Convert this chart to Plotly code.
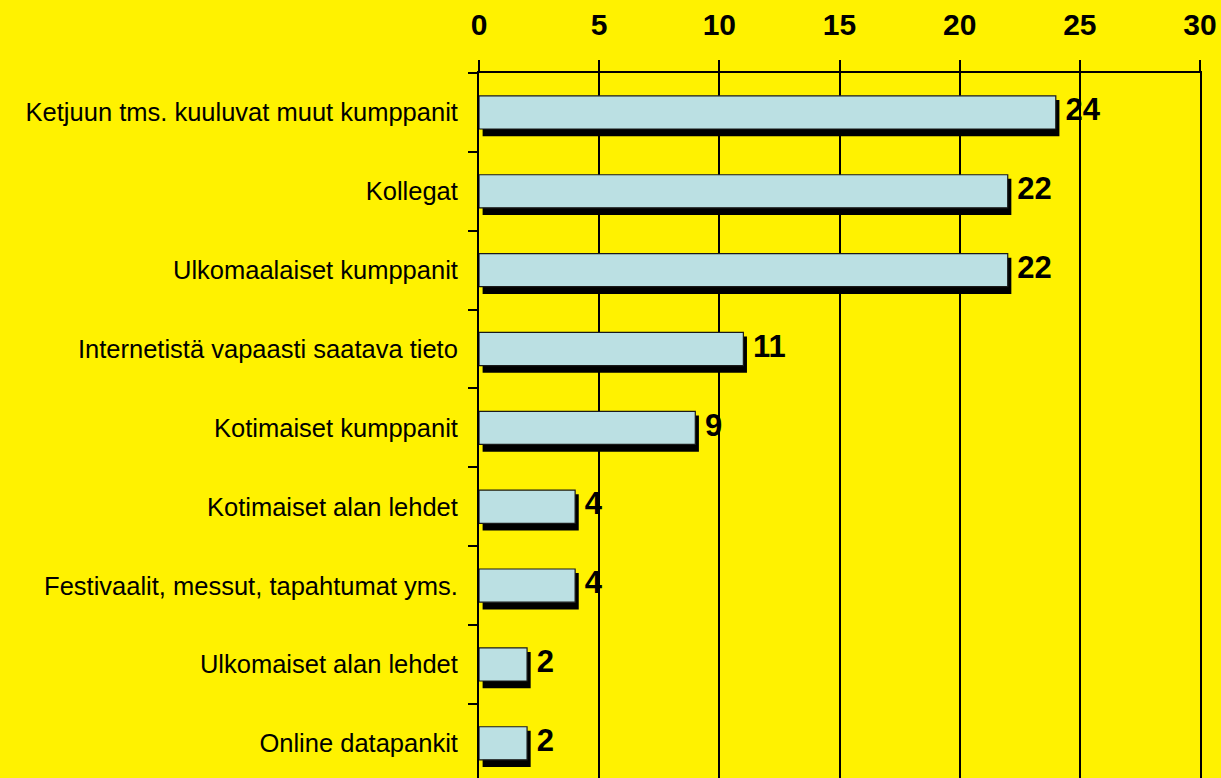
import plotly.graph_objects as go

categories = [
    "Ketjuun tms. kuuluvat muut kumppanit",
    "Kollegat",
    "Ulkomaalaiset kumppanit",
    "Internetistä vapaasti saatava tieto",
    "Kotimaiset kumppanit",
    "Kotimaiset alan lehdet",
    "Festivaalit, messut, tapahtumat yms.",
    "Ulkomaiset alan lehdet",
    "Online datapankit",
]
values = [24, 22, 22, 11, 9, 4, 4, 2, 2]
x_ticks = [0, 5, 10, 15, 20, 25, 30]

pos = list(range(len(categories)))
FONT = "Liberation Sans, Arial, sans-serif"
BG = "#FFF200"

fig = go.Figure()
# shadow
fig.add_trace(go.Bar(
    x=values, y=pos, orientation="h", base=0.15,
    width=0.46, offset=-0.158,
    marker=dict(color="black", line=dict(width=0)),
    hoverinfo="skip", showlegend=False,
))
# face
fig.add_trace(go.Bar(
    x=values, y=pos, orientation="h",
    width=0.42, offset=-0.21,
    marker=dict(color="#BBE0E3", line=dict(color="#1a1a1a", width=1.2)),
    showlegend=False,
))
# value labels
fig.add_trace(go.Scatter(
    x=[v + 0.4 for v in values], y=pos, mode="text",
    text=[str(v) for v in values], textposition="middle right",
    textfont=dict(family=FONT, size=31, color="black", weight="bold"),
    showlegend=False, hoverinfo="skip", cliponaxis=False,
))

fig.update_layout(
    width=1221, height=778,
    margin=dict(l=479, r=21, t=73, b=0),
    paper_bgcolor=BG, plot_bgcolor=BG,
    barmode="overlay",
    font=dict(family=FONT, color="black"),
    xaxis=dict(
        side="top", range=[0, 30], tickvals=x_ticks,
        showgrid=True, gridcolor="black", gridwidth=1.6,
        zeroline=False, showline=True, linecolor="black", linewidth=2,
        ticks="outside", ticklen=11, tickwidth=2, tickcolor="black",
        tickfont=dict(family=FONT, size=30, color="black", weight="bold"),
        ticklabelstandoff=13, fixedrange=True,
    ),
    yaxis=dict(
        range=[8.44, -0.5], tickvals=pos, ticktext=categories,
        showgrid=False, zeroline=False,
        showline=True, linecolor="black", linewidth=2, mirror=True,
        ticks="", tickfont=dict(family=FONT, size=25.5, color="black"),
        ticklabelstandoff=14,
        minor=dict(tickvals=[p - 0.5 for p in pos], ticks="outside",
                   ticklen=9, tickwidth=2, tickcolor="black", showgrid=False),
        fixedrange=True,
    ),
)

fig.write_html(
    "out.html",
    config={"displayModeBar": False},
    post_script="document.body.style.margin='0';document.body.style.background='#FFF200';",
)
